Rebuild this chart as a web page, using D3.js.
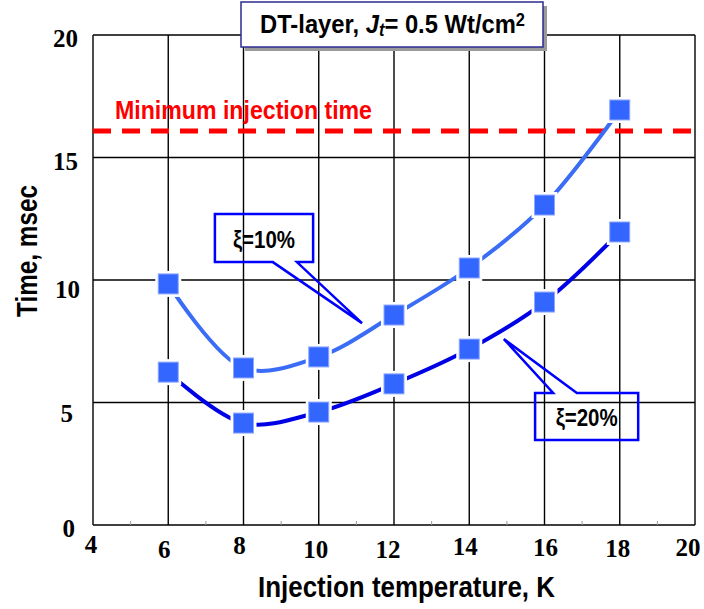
<!DOCTYPE html>
<html>
<head>
<meta charset="utf-8">
<script src="https://cdn.jsdelivr.net/npm/d3@7"></script>
<style>
  body { margin: 0; background: #fff; }
  svg { display: block; }
</style>
</head>
<body>
<svg id="chart_svg" width="704" height="609"></svg>
<script>
// chart values
var temps = [6, 8, 10, 12, 14, 16, 18];
var xi10 = [9.84, 6.41, 6.86, 8.57, 10.49, 13.06, 16.94];
var xi20 = [6.24, 4.16, 4.61, 5.76, 7.18, 9.10, 11.96];
var minInjection = 16.08;
var xTicks = [4, 6, 8, 10, 12, 14, 16, 18, 20];
var yTicks = [0, 5, 10, 15, 20];

var margin = {top: 35, right: 9, bottom: 84, left: 93};
var width = 704 - margin.left - margin.right;
var height = 609 - margin.top - margin.bottom;

var sans = "'Liberation Sans', Arial, sans-serif";
var serif = "'Liberation Serif', 'Times New Roman', serif";

var base = d3.select('#chart_svg');

var x = d3.scaleLinear().domain([4, 20]).range([0, width]);
var y = d3.scaleLinear().domain([0, 20]).range([height, 0]);

var plot = base.append("g")
                .attr("id", "plot-group")
                .attr("transform", "translate(" + margin.left + "," + margin.top + ")");

// Grid lines
plot.append("g")
    .selectAll("line")
    .data(xTicks)
    .join("line")
    .attr("x1", d => x(d)).attr("x2", d => x(d))
    .attr("y1", 0).attr("y2", height)
    .attr("stroke", "#000").attr("stroke-width", 1.4);
plot.append("g")
    .selectAll("line")
    .data(yTicks)
    .join("line")
    .attr("x1", 0).attr("x2", width)
    .attr("y1", d => y(d)).attr("y2", d => y(d))
    .attr("stroke", "#000").attr("stroke-width", 1.4);

// small minor ticks along the bottom axis
plot.append("g")
    .selectAll("line")
    .data(d3.range(5, 20, 2))
    .join("line")
    .attr("x1", d => x(d)).attr("x2", d => x(d))
    .attr("y1", height).attr("y2", height - 4)
    .attr("stroke", "#999").attr("stroke-width", 1);

// Tick labels (the original sits a bit unevenly)
var xNudge = [[-2, -3], [-4, 2], [-4, -2], [-3, 2], [-6, 2], [-4, -1], [1, 0], [-2, 1], [-7, 0]];
plot.append("g")
    .selectAll("text")
    .data(xTicks)
    .join("text")
    .text(d => d)
    .attr("x", (d, i) => x(d) + xNudge[i][0])
    .attr("y", (d, i) => height + 31 + xNudge[i][1])
    .attr("text-anchor", "middle")
    .attr("font-family", serif)
    .attr("font-weight", "bold")
    .attr("font-size", "25px");

var yNudge = [[-3, 0], [-5, 7], [2, 6], [0, 0], [0, 0]];
plot.append("g")
    .selectAll("text")
    .data(yTicks)
    .join("text")
    .text(d => d)
    .attr("x", (d, i) => -15 + yNudge[i][0])
    .attr("y", (d, i) => y(d) + 12 + yNudge[i][1])
    .attr("text-anchor", "end")
    .attr("font-family", serif)
    .attr("font-weight", "bold")
    .attr("font-size", "25px");

// Axis titles (narrow look, squeezed to the original width)
base.append("text")
    .text("Injection temperature, K")
    .attr("x", 258)
    .attr("y", 597)
    .attr("textLength", 297)
    .attr("lengthAdjust", "spacingAndGlyphs")
    .attr("font-family", sans)
    .attr("font-weight", "bold")
    .attr("font-size", "29px");

base.append("text")
    .text("Time, msec")
    .attr("transform", "translate(37,317) rotate(-90)")
    .attr("textLength", 132)
    .attr("lengthAdjust", "spacingAndGlyphs")
    .attr("font-family", sans)
    .attr("font-weight", "bold")
    .attr("font-size", "30px");

// Minimum injection time line
plot.append("line")
    .attr("x1", 0).attr("x2", width)
    .attr("y1", y(minInjection)).attr("y2", y(minInjection))
    .attr("stroke", "#ff0000")
    .attr("stroke-width", 5)
    .attr("stroke-dasharray", "18,11");
plot.append("text")
    .text("Minimum injection time")
    .attr("x", 22)
    .attr("y", y(minInjection) - 12)
    .attr("textLength", 257)
    .attr("lengthAdjust", "spacingAndGlyphs")
    .attr("fill", "#ff0000")
    .attr("font-family", sans)
    .attr("font-weight", "bold")
    .attr("font-size", "26px");

// Curves
var line = d3.line()
              .x(d => x(d[0]))
              .y(d => y(d[1]))
              .curve(d3.curveCatmullRom.alpha(0.5));

var series = [
    {name: "xi10", values: xi10, color: "#3a6cf5"},
    {name: "xi20", values: xi20, color: "#0000e6"}
];

series.forEach(function(s) {
    plot.append("path")
        .datum(temps.map((t, i) => [t, s.values[i]]))
        .attr("d", line)
        .attr("fill", "none")
        .attr("stroke", s.color)
        .attr("stroke-width", 4);
});

// Square markers with a white halo
series.forEach(function(s) {
    var pts = temps.map((t, i) => [t, s.values[i]]);
    var g = plot.append("g").attr("class", "markers-" + s.name);
    g.selectAll("rect.halo")
        .data(pts)
        .join("rect")
        .attr("class", "halo")
        .attr("x", d => x(d[0]) - 13)
        .attr("y", d => y(d[1]) - 13)
        .attr("width", 26).attr("height", 26)
        .attr("fill", "#fff");
    g.selectAll("rect.mark")
        .data(pts)
        .join("rect")
        .attr("class", "mark")
        .attr("x", d => x(d[0]) - 10)
        .attr("y", d => y(d[1]) - 10)
        .attr("width", 20).attr("height", 20)
        .attr("fill", "#3366ff")
        .attr("stroke", "#8fa8ff")
        .attr("stroke-width", 1);
});

// Callout labels, given in data units
var callouts = [
    {text: "\u03be=10%", x0: 7.24, x1: 9.85, yTop: 12.69, yBot: 10.73, side: "bottom", t0: 8.78, t1: 9.42, tipX: 11.15, tipY: 8.24},
    {text: "\u03be=20%", x0: 15.75, x1: 18.49, yTop: 5.39, yBot: 3.47, side: "top", t0: 16.23, t1: 16.86, tipX: 14.92, tipY: 7.59}
];

callouts.forEach(function(c) {
    var l = x(c.x0), r = x(c.x1), t = y(c.yTop), b = y(c.yBot);
    var a = x(c.t0), e = x(c.t1), tx = x(c.tipX), ty = y(c.tipY);
    var p;
    if (c.side === "bottom") {
        p = [[l, t], [r, t], [r, b], [e, b], [tx, ty], [a, b], [l, b]];
    } else {
        p = [[l, t], [a, t], [tx, ty], [e, t], [r, t], [r, b], [l, b]];
    }
    plot.append("path")
        .attr("d", "M" + p.map(q => q.join(",")).join("L") + "Z")
        .attr("fill", "none")
        .attr("stroke", "#0000ff")
        .attr("stroke-width", 2.5)
        .attr("stroke-linejoin", "miter");
    plot.append("text")
        .text(c.text)
        .attr("x", (l + r) / 2 - 31)
        .attr("y", (t + b) / 2 + 10)
        .attr("textLength", 62)
        .attr("lengthAdjust", "spacingAndGlyphs")
        .attr("font-family", sans)
        .attr("font-weight", "bold")
        .attr("font-size", "24px");
});

// Title box
var titleGroup = base.append("g")
                      .attr("id", "title-group")
                      .attr("transform", "translate(241,2)");
titleGroup.append("rect")
    .attr("x", 4).attr("y", 4)
    .attr("width", 302).attr("height", 45)
    .attr("fill", "#9a9a9a");
titleGroup.append("rect")
    .attr("width", 302).attr("height", 45)
    .attr("fill", "#fff")
    .attr("stroke", "#2b2b8f")
    .attr("stroke-width", 1.5);
var title = titleGroup.append("text")
    .attr("x", 19)
    .attr("y", 31)
    .attr("textLength", 265)
    .attr("lengthAdjust", "spacingAndGlyphs")
    .attr("font-family", sans)
    .attr("font-weight", "bold")
    .attr("font-size", "26px");
title.append("tspan").text("DT-layer, ");
title.append("tspan").text("J").attr("font-style", "italic");
title.append("tspan").text("t").attr("font-style", "italic").attr("font-size", "18px").attr("dy", 3);
title.append("tspan").text("= 0.5 Wt/cm").attr("dy", -3);
title.append("tspan").text("2").attr("font-size", "18px").attr("dy", -7);
</script>
</body>
</html>
